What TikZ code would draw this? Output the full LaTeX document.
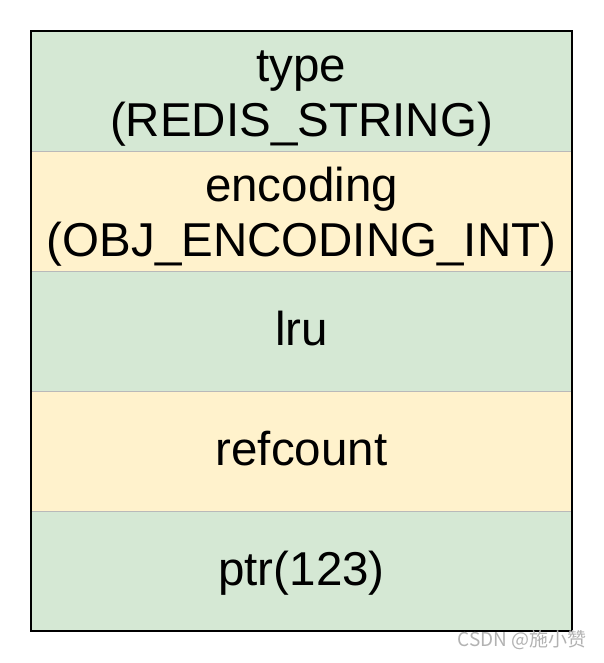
\documentclass[tikz,border=0pt]{standalone}
\usepackage{fontspec}
\setmainfont{Liberation Sans}
\newfontfamily\cjk{Noto Sans CJK SC}
\usetikzlibrary{positioning}
\definecolor{fieldgreen}{HTML}{D5E8D4}
\definecolor{fieldyellow}{HTML}{FFF2CC}

\begin{document}
\begin{tikzpicture}[x=1pt,y=1pt,node distance=0pt,
  field node/.style={rectangle,draw=gray!55,line width=0.6pt,outer sep=0pt,inner sep=0pt,
    minimum width=541pt,minimum height=120pt,align=center,
    font=\fontsize{47.5}{55}\selectfont},
  one line/.style={text height=38pt,text depth=10pt},
  green field/.style={field node,fill=fieldgreen},
  yellow field/.style={field node,fill=fieldyellow}]
  \useasboundingbox (0,0) rectangle (603,-663);

  \node[green field] (type) at (301.5,-91) {\rule{0pt}{45pt}type\\(REDIS\_STRING)};
  \node[yellow field] (encoding) [below=of type] {\rule{0pt}{45pt}encoding\\(OBJ\_ENCODING\_INT)};
  \node[green field,one line] (lru) [below=of encoding] {lru};
  \node[yellow field,one line] (refcount) [below=of lru] {refcount};
  \node[green field,one line] (ptr) [below=of refcount] {ptr(123)};

  \draw[line width=1.3pt] (type.north west) rectangle (ptr.south east);

  \node[anchor=east,text=gray!60,font=\cjk\fontsize{19}{19}\selectfont] (mark) at (590,-640) {CSDN @施小赞};
\end{tikzpicture}
\end{document}
